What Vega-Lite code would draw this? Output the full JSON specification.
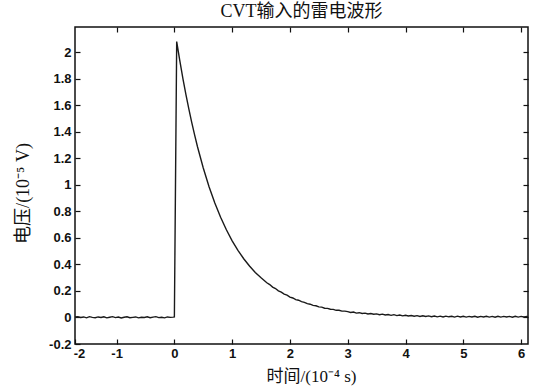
{
  "$schema": "https://vega.github.io/schema/vega-lite/v6.json",
  "width": 453,
  "height": 317,
  "autosize": "none",
  "padding": {"left": 75, "top": 27, "right": 13, "bottom": 46},
  "background": "white",
  "title": {
    "text": "CVT输入的雷电波形",
    "font": "Liberation Serif, Noto Sans CJK SC",
    "fontSize": 18,
    "fontWeight": "normal",
    "color": "#111",
    "offset": 5,
    "anchor": "middle"
  },
  "config": {
    "view": {"stroke": "#111", "strokeWidth": 1.5},
    "axis": {
      "grid": false,
      "domain": false,
      "tickColor": "#111",
      "tickWidth": 1.2,
      "labelFont": "Liberation Sans",
      "labelFontWeight": "bold",
      "labelFontSize": 13,
      "labelColor": "#111",
      "titleFont": "Liberation Serif, Noto Sans CJK SC",
      "titleFontWeight": "normal",
      "titleFontSize": 17,
      "titleColor": "#111"
    }
  },
  "data": {
    "values": [
      {"t": -1.72, "v": 0.003}, {"t": -1.67, "v": 0.005}, {"t": -1.62, "v": 0.0},
      {"t": -1.57, "v": 0.004}, {"t": -1.52, "v": -0.003}, {"t": -1.47, "v": 0.006}, {"t": -1.42, "v": 0.001},
      {"t": -1.37, "v": -0.002}, {"t": -1.32, "v": 0.004}, {"t": -1.27, "v": 0.0}, {"t": -1.22, "v": 0.005},
      {"t": -1.17, "v": -0.003}, {"t": -1.12, "v": 0.002}, {"t": -1.07, "v": 0.006}, {"t": -1.02, "v": -0.001},
      {"t": -0.97, "v": 0.003}, {"t": -0.92, "v": -0.004}, {"t": -0.87, "v": 0.002}, {"t": -0.82, "v": 0.005},
      {"t": -0.77, "v": -0.002}, {"t": -0.72, "v": 0.001}, {"t": -0.67, "v": 0.004}, {"t": -0.62, "v": -0.003},
      {"t": -0.57, "v": 0.002}, {"t": -0.52, "v": 0.0}, {"t": -0.47, "v": 0.005}, {"t": -0.42, "v": -0.002},
      {"t": -0.37, "v": 0.003}, {"t": -0.32, "v": 0.006}, {"t": -0.27, "v": -0.001}, {"t": -0.22, "v": 0.002},
      {"t": -0.17, "v": -0.003}, {"t": -0.12, "v": 0.004}, {"t": -0.07, "v": 0.001}, {"t": -0.02, "v": 0.003},
      {"t": 0.0, "v": 0.004}, {"t": 0.04, "v": 2.08},
      {"t": 0.09, "v": 1.946}, {"t": 0.15, "v": 1.796}, {"t": 0.2, "v": 1.68}, {"t": 0.25, "v": 1.572},
      {"t": 0.3, "v": 1.471}, {"t": 0.35, "v": 1.376}, {"t": 0.4, "v": 1.287}, {"t": 0.5, "v": 1.127},
      {"t": 0.6, "v": 0.986}, {"t": 0.7, "v": 0.863}, {"t": 0.8, "v": 0.755}, {"t": 0.9, "v": 0.661},
      {"t": 1.0, "v": 0.578}, {"t": 1.1, "v": 0.506}, {"t": 1.2, "v": 0.443}, {"t": 1.3, "v": 0.388},
      {"t": 1.4, "v": 0.339}, {"t": 1.5, "v": 0.299}, {"t": 1.55, "v": 0.281}, {"t": 1.6, "v": 0.262},
      {"t": 1.65, "v": 0.248}, {"t": 1.7, "v": 0.229}, {"t": 1.75, "v": 0.218}, {"t": 1.8, "v": 0.201},
      {"t": 1.85, "v": 0.191}, {"t": 1.9, "v": 0.176}, {"t": 1.95, "v": 0.168}, {"t": 2.0, "v": 0.154},
      {"t": 2.05, "v": 0.147}, {"t": 2.1, "v": 0.135}, {"t": 2.15, "v": 0.130}, {"t": 2.2, "v": 0.119},
      {"t": 2.25, "v": 0.114}, {"t": 2.3, "v": 0.104}, {"t": 2.35, "v": 0.100}, {"t": 2.4, "v": 0.091},
      {"t": 2.45, "v": 0.088}, {"t": 2.5, "v": 0.080}, {"t": 2.55, "v": 0.078}, {"t": 2.6, "v": 0.070},
      {"t": 2.65, "v": 0.069}, {"t": 2.7, "v": 0.062}, {"t": 2.75, "v": 0.061}, {"t": 2.8, "v": 0.054},
      {"t": 2.85, "v": 0.054}, {"t": 2.9, "v": 0.048}, {"t": 2.95, "v": 0.048},
      {"t": 3.0, "v": 0.044}, {"t": 3.05, "v": 0.038}, {"t": 3.1, "v": 0.041}, {"t": 3.15, "v": 0.033},
      {"t": 3.2, "v": 0.036}, {"t": 3.25, "v": 0.030}, {"t": 3.3, "v": 0.033}, {"t": 3.35, "v": 0.026},
      {"t": 3.4, "v": 0.030}, {"t": 3.45, "v": 0.024}, {"t": 3.5, "v": 0.027}, {"t": 3.55, "v": 0.021},
      {"t": 3.6, "v": 0.025}, {"t": 3.65, "v": 0.019}, {"t": 3.7, "v": 0.022}, {"t": 3.75, "v": 0.016},
      {"t": 3.8, "v": 0.021}, {"t": 3.85, "v": 0.014}, {"t": 3.9, "v": 0.018}, {"t": 3.95, "v": 0.012},
      {"t": 4.0, "v": 0.017}, {"t": 4.05, "v": 0.011}, {"t": 4.1, "v": 0.015}, {"t": 4.15, "v": 0.009},
      {"t": 4.2, "v": 0.014}, {"t": 4.25, "v": 0.008}, {"t": 4.3, "v": 0.013}, {"t": 4.35, "v": 0.007},
      {"t": 4.4, "v": 0.012}, {"t": 4.45, "v": 0.006}, {"t": 4.5, "v": 0.011}, {"t": 4.55, "v": 0.005},
      {"t": 4.6, "v": 0.010}, {"t": 4.65, "v": 0.004}, {"t": 4.7, "v": 0.010}, {"t": 4.75, "v": 0.005},
      {"t": 4.8, "v": 0.009}, {"t": 4.85, "v": 0.003}, {"t": 4.9, "v": 0.010}, {"t": 4.95, "v": 0.004},
      {"t": 5.0, "v": 0.009}, {"t": 5.05, "v": 0.003}, {"t": 5.1, "v": 0.008}, {"t": 5.15, "v": 0.004},
      {"t": 5.2, "v": 0.009}, {"t": 5.25, "v": 0.002}, {"t": 5.3, "v": 0.008}, {"t": 5.35, "v": 0.004},
      {"t": 5.4, "v": 0.009}, {"t": 5.45, "v": 0.003}, {"t": 5.5, "v": 0.008}, {"t": 5.55, "v": 0.002},
      {"t": 5.6, "v": 0.009}, {"t": 5.65, "v": 0.003}, {"t": 5.7, "v": 0.008}, {"t": 5.75, "v": 0.004},
      {"t": 5.8, "v": 0.008}, {"t": 5.85, "v": 0.002}, {"t": 5.9, "v": 0.009}, {"t": 5.95, "v": 0.003},
      {"t": 6.0, "v": 0.008}, {"t": 6.05, "v": 0.004}, {"t": 6.1, "v": 0.008}, {"t": 6.12, "v": 0.005}
    ]
  },
  "layer": [
    {
      "mark": {"type": "line", "color": "#1a1a1a", "strokeWidth": 1.4, "clip": true},
      "encoding": {
        "x": {
          "field": "t", "type": "quantitative",
          "scale": {"domain": [-1.72, 6.12], "nice": false, "zero": false},
          "axis": {
            "orient": "bottom",
            "values": [-1.72, -1, 0, 1, 2, 3, 4, 5, 6],
            "labelExpr": "datum.value < -1.5 ? '-2' : replace(datum.label, '−', '-')",
            "labelOffset": {"condition": {"test": "datum.value < -1.5", "value": 4}, "value": 0},
            "tickSize": -5,
            "labelPadding": 8,
            "labelFlush": false,
            "title": "时间/(10⁻⁴ s)",
            "titleX": 236,
            "titlePadding": 8
          }
        },
        "y": {
          "field": "v", "type": "quantitative",
          "scale": {"domain": [-0.2, 2.19], "nice": false, "zero": false},
          "axis": {
            "orient": "left",
            "values": [-0.2, 0, 0.2, 0.4, 0.6, 0.8, 1, 1.2, 1.4, 1.6, 1.8, 2],
            "format": ".1~f",
            "labelExpr": "replace(datum.label, '−', '-')",
            "tickSize": -5,
            "labelPadding": 9,
            "labelFlush": false,
            "title": "电压/(10⁻⁵ V)",
            "titleFontSize": 18,
            "titleY": 166,
            "titlePadding": 16
          }
        }
      }
    },
    {
      "mark": {"type": "line", "opacity": 0},
      "encoding": {
        "x": {
          "field": "t", "type": "quantitative",
          "scale": {"domain": [-1.72, 6.12], "nice": false, "zero": false},
          "axis": {"orient": "top", "values": [-1, 0, 1, 2, 3, 4, 5, 6], "tickSize": -5, "labels": false, "title": null}
        },
        "y": {
          "field": "v", "type": "quantitative",
          "scale": {"domain": [-0.2, 2.19], "nice": false, "zero": false},
          "axis": {"orient": "right", "values": [0, 0.2, 0.4, 0.6, 0.8, 1, 1.2, 1.4, 1.6, 1.8, 2], "tickSize": -5, "labels": false, "title": null}
        }
      }
    }
  ],
  "resolve": {"axis": {"x": "independent", "y": "independent"}}
}
